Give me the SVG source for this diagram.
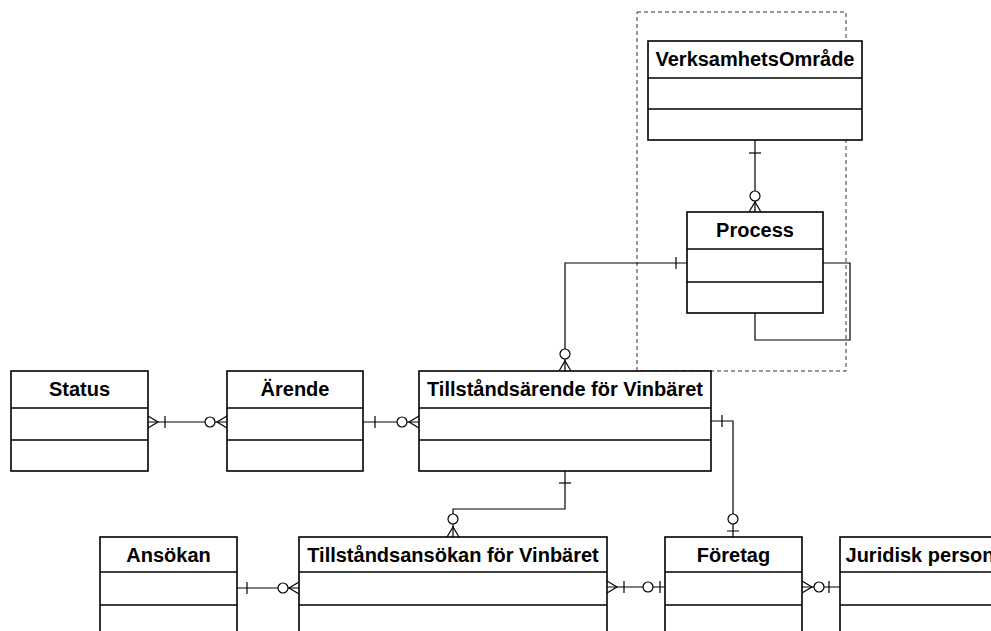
<svg xmlns="http://www.w3.org/2000/svg" width="991" height="631" viewBox="0 0 991 631">
<style>
.box{fill:#fff;stroke:#000;stroke-width:1.6}
.sep{stroke:#000;stroke-width:1.6}
.t{font-family:"Liberation Sans",Arial,sans-serif;font-weight:bold;font-size:20px;text-anchor:middle;fill:#000}
.c{fill:none;stroke:#000;stroke-width:1.2}
.o{fill:#fff;stroke:#000;stroke-width:1.2}
.frame{fill:none;stroke:#333;stroke-width:1;stroke-dasharray:4 3}
</style>
<rect width="991" height="631" fill="#fff"/>
<rect class="frame" x="637" y="12" width="209" height="359"/>
<g id="connectors">
  <!-- Status - Ärende -->
  <path class="c" d="M148,422H227"/>
  <path class="c" d="M148,416L158,422L148,428M165,416V428"/>
  <path class="c" d="M227,416L217,422L227,428"/>
  <circle class="o" cx="210" cy="422" r="5"/>
  <!-- Ärende - Tillståndsärende -->
  <path class="c" d="M363,422H419"/>
  <path class="c" d="M375,416V428"/>
  <path class="c" d="M419,416L409,422L419,428"/>
  <circle class="o" cx="402" cy="422" r="5"/>
  <!-- VerksamhetsOmråde - Process -->
  <path class="c" d="M755,140V212"/>
  <path class="c" d="M749,153H761"/>
  <path class="c" d="M749,212L755,202L761,212"/>
  <circle class="o" cx="755" cy="196" r="5"/>
  <!-- Process - Tillståndsärende -->
  <path class="c" d="M687,263H565V371"/>
  <path class="c" d="M676,257V269"/>
  <path class="c" d="M559,371L565,361L571,371"/>
  <circle class="o" cx="565" cy="354" r="5"/>
  <!-- Process self -->
  <path class="c" d="M823,263H850V340H755V313"/>
  <!-- Tillståndsärende - Tillståndsansökan -->
  <path class="c" d="M565,471V509H453V537"/>
  <path class="c" d="M559,483H571"/>
  <path class="c" d="M447,537L453,527L459,537"/>
  <circle class="o" cx="453" cy="519" r="5"/>
  <!-- Tillståndsärende - Företag -->
  <path class="c" d="M711,421H733V537"/>
  <path class="c" d="M722,415V427M727,531H739"/>
  <circle class="o" cx="733" cy="519" r="5"/>
  <!-- Ansökan - Tillståndsansökan -->
  <path class="c" d="M237,588H299"/>
  <path class="c" d="M247,582V594"/>
  <path class="c" d="M299,582L289,588L299,594"/>
  <circle class="o" cx="283" cy="588" r="5"/>
  <!-- Tillståndsansökan - Företag -->
  <path class="c" d="M607,587H665"/>
  <path class="c" d="M607,581L617,587L607,593M624,581V593M660,581V593"/>
  <circle class="o" cx="648" cy="587" r="5"/>
  <!-- Företag - Juridisk person -->
  <path class="c" d="M802,587H840"/>
  <path class="c" d="M802,581L812,587L802,593M829,581V593"/>
  <circle class="o" cx="819" cy="587" r="5"/>
</g>
<g id="status">
  <rect class="box" x="11" y="371" width="137" height="100"/>
  <path class="sep" d="M11,408H148M11,440H148"/>
  <text class="t" x="79.5" y="396">Status</text>
</g>
<g id="arende">
  <rect class="box" x="227" y="371" width="136" height="100"/>
  <path class="sep" d="M227,408H363M227,440H363"/>
  <text class="t" x="295" y="396">Ärende</text>
</g>
<g id="tillstandsarende">
  <rect class="box" x="419" y="371" width="292" height="100"/>
  <path class="sep" d="M419,408H711M419,440H711"/>
  <text class="t" x="565" y="396">Tillståndsärende för Vinbäret</text>
</g>
<g id="verksamhetsomrade">
  <rect class="box" x="648" y="41" width="214" height="99"/>
  <path class="sep" d="M648,78H862M648,109H862"/>
  <text class="t" x="755" y="66">VerksamhetsOmråde</text>
</g>
<g id="process">
  <rect class="box" x="687" y="212" width="136" height="101"/>
  <path class="sep" d="M687,249H823M687,282H823"/>
  <text class="t" x="755" y="237">Process</text>
</g>
<g id="ansokan">
  <rect class="box" x="100" y="537" width="137" height="120"/>
  <path class="sep" d="M100,572H237M100,605H237"/>
  <text class="t" x="168.5" y="562">Ansökan</text>
</g>
<g id="tillstandsansokan">
  <rect class="box" x="299" y="537" width="308" height="120"/>
  <path class="sep" d="M299,572H607M299,605H607"/>
  <text class="t" x="453" y="562">Tillståndsansökan för Vinbäret</text>
</g>
<g id="foretag">
  <rect class="box" x="665" y="537" width="137" height="120"/>
  <path class="sep" d="M665,572H802M665,605H802"/>
  <text class="t" x="733.5" y="562">Företag</text>
</g>
<g id="juridisk">
  <rect class="box" x="840" y="537" width="160" height="120"/>
  <path class="sep" d="M840,572H1000M840,605H1000"/>
  <text class="t" x="920" y="562">Juridisk person</text>
</g>
</svg>
